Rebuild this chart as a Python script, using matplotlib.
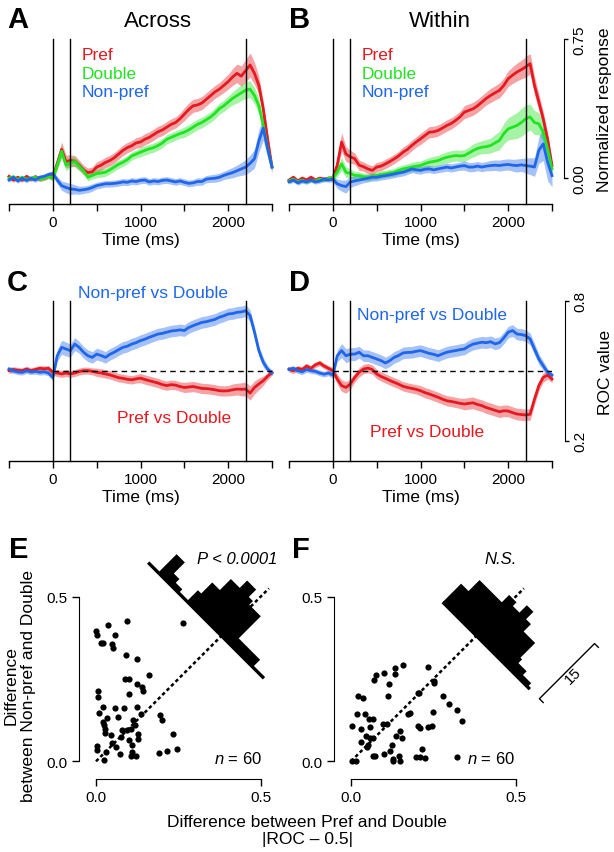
import numpy as np
import matplotlib
matplotlib.use("Agg")
import matplotlib.pyplot as plt
from matplotlib.transforms import Affine2D

plt.rcParams["font.family"] = ["Liberation Sans", "DejaVu Sans"]
plt.rcParams["mathtext.fontset"] = "custom"
plt.rcParams["mathtext.it"] = "Liberation Sans:italic"
plt.rcParams["mathtext.rm"] = "Liberation Sans"

W, H = 614, 853

RED = "#E5191F"
GREEN = "#22E322"
BLUE = "#1F66EA"

# time axis (ms), 50-ms bins
T = np.arange(-500, 2501, 50)
XTICKS = [-500, 0, 500, 1000, 1500, 2000, 2500]
XTICK_LABELS = ["", "0", "", "1000", "", "2000", ""]
EVENTS = [0, 200, 2200]

# ---- A: Across, normalized response ----
A_PREF = [0.01, -0.01, 0.005, -0.01, 0.01, -0.005, 0.008, -0.005, 0.0, 0.01,
          0.005, 0.08, 0.155, 0.09, 0.095, 0.092, 0.07, 0.045, 0.03, 0.035,
          0.06, 0.07, 0.085, 0.095, 0.11, 0.13, 0.15, 0.165, 0.175, 0.19,
          0.195, 0.21, 0.22, 0.235, 0.25, 0.26, 0.275, 0.29, 0.30, 0.32,
          0.345, 0.37, 0.39, 0.395, 0.405, 0.425, 0.445, 0.465, 0.48, 0.50,
          0.52, 0.545, 0.565, 0.55, 0.58, 0.61, 0.565, 0.50, 0.375, 0.21,
          0.06]
A_DOUBLE = [0.0, 0.008, -0.008, 0.005, -0.005, 0.0, 0.005, -0.005, 0.0, 0.01,
            0.0, 0.07, 0.145, 0.07, 0.085, 0.09, 0.065, 0.04, 0.005, 0.015,
            0.025, 0.028, 0.032, 0.045, 0.06, 0.075, 0.086, 0.1, 0.12, 0.13,
            0.14, 0.15, 0.158, 0.165, 0.176, 0.19, 0.21, 0.22, 0.23, 0.24,
            0.248, 0.26, 0.275, 0.29, 0.30, 0.315, 0.33, 0.35, 0.375, 0.39,
            0.41, 0.43, 0.445, 0.46, 0.475, 0.48, 0.445, 0.39, 0.285, 0.16,
            0.06]
A_NONPREF = [-0.01, 0.005, -0.015, 0.0, -0.012, 0.0, -0.01, 0.005, 0.01, 0.02,
             0.025, -0.01, -0.04, -0.05, -0.058, -0.06, -0.065, -0.062, -0.058, -0.05,
             -0.04, -0.035, -0.03, -0.03, -0.028, -0.025, -0.02, -0.022, -0.015, -0.018,
             -0.012, -0.01, -0.02, -0.015, -0.018, -0.012, -0.01, -0.015, -0.02, -0.015,
             -0.022, -0.028, -0.025, -0.018, -0.018, -0.005, -0.002, 0.0, 0.005, 0.015,
             0.023, 0.03, 0.04, 0.05, 0.06, 0.08, 0.105, 0.2, 0.27, 0.16,
             0.06]
A_PREF_SEM = [0.012, 0.012, 0.012, 0.012, 0.012, 0.012, 0.012, 0.012, 0.012, 0.012,
              0.015, 0.03, 0.04, 0.035, 0.03, 0.03, 0.028, 0.025, 0.025, 0.025,
              0.028, 0.028, 0.028, 0.028, 0.028, 0.028, 0.028, 0.028, 0.028, 0.028,
              0.03, 0.03, 0.03, 0.03, 0.03, 0.03, 0.03, 0.03, 0.03, 0.03,
              0.035, 0.035, 0.035, 0.035, 0.035, 0.035, 0.035, 0.035, 0.035, 0.038,
              0.04, 0.045, 0.05, 0.055, 0.06, 0.065, 0.06, 0.05, 0.04, 0.03,
              0.02]
A_DOUBLE_SEM = [0.012, 0.012, 0.012, 0.012, 0.012, 0.012, 0.012, 0.012, 0.012, 0.012,
                0.015, 0.025, 0.035, 0.03, 0.028, 0.025, 0.022, 0.02, 0.02, 0.02,
                0.022, 0.022, 0.022, 0.022, 0.022, 0.022, 0.022, 0.022, 0.022, 0.022,
                0.025, 0.025, 0.025, 0.025, 0.025, 0.025, 0.025, 0.025, 0.025, 0.025,
                0.028, 0.028, 0.028, 0.028, 0.028, 0.028, 0.028, 0.03, 0.03, 0.03,
                0.032, 0.035, 0.04, 0.042, 0.045, 0.045, 0.045, 0.04, 0.035, 0.03,
                0.02]
A_NONPREF_SEM = [0.012, 0.012, 0.012, 0.012, 0.012, 0.012, 0.012, 0.012, 0.012, 0.012,
                 0.015, 0.02, 0.025, 0.028, 0.03, 0.025, 0.022, 0.02, 0.02, 0.02,
                 0.018, 0.018, 0.018, 0.018, 0.018, 0.018, 0.018, 0.018, 0.018, 0.018,
                 0.018, 0.018, 0.018, 0.018, 0.018, 0.018, 0.018, 0.018, 0.018, 0.018,
                 0.018, 0.018, 0.018, 0.02, 0.02, 0.02, 0.02, 0.022, 0.022, 0.022,
                 0.025, 0.028, 0.03, 0.035, 0.04, 0.045, 0.05, 0.06, 0.065, 0.05,
                 0.03]

# ---- B: Within, normalized response ----
B_PREF = [-0.01, 0.005, -0.015, 0.0, -0.01, 0.005, -0.01, 0.0, -0.005, 0.0,
          0.0, 0.07, 0.195, 0.13, 0.115, 0.105, 0.07, 0.062, 0.05, 0.042,
          0.06, 0.065, 0.077, 0.09, 0.104, 0.12, 0.14, 0.155, 0.176, 0.195,
          0.212, 0.23, 0.248, 0.25, 0.257, 0.27, 0.284, 0.295, 0.311, 0.33,
          0.356, 0.365, 0.374, 0.39, 0.41, 0.43, 0.446, 0.46, 0.473, 0.50,
          0.536, 0.555, 0.572, 0.585, 0.60, 0.617, 0.50, 0.41, 0.32, 0.21,
          0.068]
B_DOUBLE = [-0.015, -0.005, -0.02, -0.01, -0.02, -0.01, -0.015, -0.005, -0.01, 0.0,
            0.0, 0.032, 0.077, 0.032, 0.025, 0.015, 0.014, 0.008, 0.005, 0.01,
            0.014, 0.02, 0.023, 0.028, 0.032, 0.042, 0.05, 0.055, 0.06, 0.065,
            0.068, 0.078, 0.086, 0.09, 0.095, 0.105, 0.113, 0.118, 0.122, 0.12,
            0.122, 0.135, 0.149, 0.16, 0.167, 0.17, 0.176, 0.19, 0.203, 0.24,
            0.266, 0.275, 0.284, 0.30, 0.32, 0.33, 0.30, 0.293, 0.248, 0.158,
            0.05]
B_NONPREF = [-0.02, -0.01, -0.025, -0.015, -0.02, -0.01, -0.02, -0.015, -0.005, -0.01,
             -0.005, -0.03, -0.04, -0.045, -0.02, -0.015, -0.01, -0.005, 0.0, 0.005,
             0.005, 0.01, 0.014, 0.018, 0.023, 0.028, 0.032, 0.04, 0.05, 0.045,
             0.042, 0.048, 0.05, 0.045, 0.05, 0.055, 0.06, 0.055, 0.06, 0.065,
             0.068, 0.06, 0.06, 0.065, 0.06, 0.065, 0.068, 0.07, 0.068, 0.072,
             0.074, 0.07, 0.068, 0.072, 0.068, 0.065, 0.06, 0.15, 0.185, 0.086,
             0.014]
B_PREF_SEM = [0.012, 0.012, 0.012, 0.012, 0.012, 0.012, 0.012, 0.012, 0.012, 0.012,
              0.015, 0.035, 0.05, 0.04, 0.035, 0.03, 0.028, 0.025, 0.025, 0.025,
              0.025, 0.025, 0.025, 0.025, 0.025, 0.025, 0.028, 0.028, 0.028, 0.028,
              0.03, 0.03, 0.03, 0.03, 0.03, 0.03, 0.03, 0.03, 0.03, 0.03,
              0.035, 0.035, 0.035, 0.035, 0.035, 0.035, 0.038, 0.038, 0.04, 0.04,
              0.042, 0.045, 0.048, 0.05, 0.055, 0.055, 0.05, 0.045, 0.04, 0.03,
              0.02]
B_DOUBLE_SEM = [0.012, 0.012, 0.012, 0.012, 0.012, 0.012, 0.012, 0.012, 0.012, 0.012,
                0.015, 0.025, 0.035, 0.028, 0.025, 0.022, 0.02, 0.02, 0.02, 0.02,
                0.02, 0.02, 0.02, 0.02, 0.022, 0.022, 0.022, 0.022, 0.025, 0.025,
                0.025, 0.025, 0.025, 0.028, 0.028, 0.028, 0.03, 0.03, 0.03, 0.03,
                0.032, 0.032, 0.035, 0.035, 0.035, 0.038, 0.04, 0.045, 0.05, 0.055,
                0.06, 0.065, 0.07, 0.075, 0.075, 0.07, 0.065, 0.06, 0.05, 0.04,
                0.025]
B_NONPREF_SEM = [0.012, 0.012, 0.012, 0.012, 0.012, 0.012, 0.012, 0.012, 0.012, 0.012,
                 0.015, 0.025, 0.03, 0.035, 0.03, 0.025, 0.022, 0.02, 0.02, 0.02,
                 0.02, 0.02, 0.02, 0.02, 0.02, 0.02, 0.02, 0.02, 0.02, 0.02,
                 0.02, 0.02, 0.02, 0.02, 0.02, 0.022, 0.022, 0.022, 0.022, 0.022,
                 0.025, 0.025, 0.025, 0.025, 0.025, 0.025, 0.028, 0.028, 0.03, 0.03,
                 0.03, 0.032, 0.035, 0.035, 0.04, 0.045, 0.05, 0.07, 0.09, 0.1,
                 0.06]

# ---- C: Across, ROC ----
C_NONPREF_DOUBLE = [0.507, 0.5, 0.495, 0.493, 0.5, 0.495, 0.497, 0.493, 0.495, 0.49,
                    0.471, 0.564, 0.60, 0.593, 0.586, 0.614, 0.60, 0.579, 0.564, 0.557,
                    0.571, 0.565, 0.557, 0.57, 0.579, 0.59, 0.60, 0.605, 0.614, 0.62,
                    0.629, 0.635, 0.643, 0.65, 0.657, 0.66, 0.665, 0.67, 0.672, 0.675,
                    0.672, 0.685, 0.693, 0.70, 0.707, 0.71, 0.715, 0.72, 0.729, 0.735,
                    0.743, 0.745, 0.75, 0.752, 0.757, 0.736, 0.665, 0.586, 0.536, 0.507,
                    0.49]
C_PREF_DOUBLE = [0.5, 0.505, 0.502, 0.5, 0.507, 0.5, 0.505, 0.51, 0.508, 0.51,
                 0.493, 0.49, 0.486, 0.49, 0.486, 0.49, 0.496, 0.5, 0.5, 0.497,
                 0.493, 0.49, 0.486, 0.482, 0.476, 0.47, 0.467, 0.463, 0.461, 0.465,
                 0.468, 0.462, 0.457, 0.452, 0.447, 0.44, 0.436, 0.44, 0.438, 0.432,
                 0.428, 0.43, 0.432, 0.428, 0.424, 0.423, 0.421, 0.418, 0.414, 0.413,
                 0.414, 0.418, 0.421, 0.42, 0.421, 0.404, 0.428, 0.443, 0.457, 0.476,
                 0.493]
C_NONPREF_SEM = [0.012, 0.012, 0.012, 0.012, 0.012, 0.012, 0.012, 0.012, 0.012, 0.012,
                 0.015, 0.025, 0.03, 0.03, 0.028, 0.028, 0.025, 0.025, 0.025, 0.025,
                 0.025, 0.025, 0.025, 0.025, 0.025, 0.025, 0.025, 0.025, 0.025, 0.025,
                 0.025, 0.025, 0.025, 0.025, 0.025, 0.025, 0.025, 0.025, 0.025, 0.025,
                 0.025, 0.025, 0.025, 0.025, 0.025, 0.025, 0.025, 0.025, 0.025, 0.025,
                 0.025, 0.025, 0.025, 0.025, 0.025, 0.025, 0.025, 0.022, 0.02, 0.015,
                 0.012]
C_PREF_SEM = [0.012, 0.012, 0.012, 0.012, 0.012, 0.012, 0.012, 0.012, 0.012, 0.012,
              0.012, 0.015, 0.015, 0.015, 0.015, 0.015, 0.015, 0.015, 0.015, 0.015,
              0.018, 0.018, 0.018, 0.018, 0.018, 0.018, 0.018, 0.018, 0.018, 0.018,
              0.02, 0.02, 0.02, 0.02, 0.02, 0.02, 0.02, 0.02, 0.02, 0.02,
              0.022, 0.022, 0.022, 0.022, 0.022, 0.022, 0.022, 0.022, 0.022, 0.022,
              0.022, 0.025, 0.025, 0.028, 0.03, 0.03, 0.028, 0.025, 0.02, 0.015,
              0.012]

# ---- D: Within, ROC ----
D_NONPREF_DOUBLE = [0.505, 0.51, 0.5, 0.495, 0.505, 0.5, 0.497, 0.49, 0.485, 0.49,
                    0.481, 0.564, 0.586, 0.564, 0.571, 0.571, 0.579, 0.564, 0.564, 0.557,
                    0.55, 0.543, 0.533, 0.543, 0.557, 0.565, 0.576, 0.578, 0.579, 0.583,
                    0.586, 0.58, 0.574, 0.57, 0.564, 0.572, 0.579, 0.583, 0.586, 0.59,
                    0.593, 0.605, 0.614, 0.618, 0.622, 0.62, 0.624, 0.615, 0.62, 0.64,
                    0.665, 0.672, 0.657, 0.655, 0.65, 0.636, 0.593, 0.55, 0.521, 0.493,
                    0.481]
D_PREF_DOUBLE = [0.507, 0.5, 0.51, 0.505, 0.52, 0.51, 0.525, 0.533, 0.52, 0.51,
                 0.5, 0.464, 0.436, 0.428, 0.443, 0.471, 0.493, 0.507, 0.511, 0.505,
                 0.486, 0.475, 0.467, 0.458, 0.45, 0.442, 0.433, 0.428, 0.424, 0.42,
                 0.414, 0.406, 0.40, 0.393, 0.386, 0.378, 0.371, 0.368, 0.364, 0.36,
                 0.357, 0.36, 0.362, 0.355, 0.35, 0.342, 0.336, 0.33, 0.324, 0.328,
                 0.327, 0.32, 0.314, 0.312, 0.31, 0.313, 0.378, 0.436, 0.471, 0.481,
                 0.464]
D_NONPREF_SEM = C_NONPREF_SEM
D_PREF_SEM = [0.012, 0.012, 0.012, 0.012, 0.012, 0.012, 0.012, 0.012, 0.012, 0.012,
              0.015, 0.022, 0.025, 0.025, 0.022, 0.02, 0.02, 0.02, 0.02, 0.02,
              0.02, 0.02, 0.02, 0.02, 0.02, 0.02, 0.02, 0.02, 0.02, 0.02,
              0.022, 0.022, 0.022, 0.022, 0.022, 0.022, 0.022, 0.022, 0.022, 0.022,
              0.025, 0.025, 0.025, 0.025, 0.025, 0.025, 0.025, 0.025, 0.025, 0.025,
              0.025, 0.025, 0.025, 0.025, 0.025, 0.025, 0.025, 0.022, 0.02, 0.018,
              0.015]

# ---- E / F: scatter of |ROC - 0.5| differences ----
E_X = [0.093, 0.036, 0.0, 0.002, 0.058, 0.015, 0.022, 0.049, 0.051, 0.263,
       0.09, 0.124, 0.161, 0.088, 0.1, 0.124, 0.14, 0.143, 0.005, 0.007,
       0.101, 0.021, 0.01, 0.058, 0.085, 0.124, 0.136, 0.194, 0.2, 0.032,
       0.068, 0.113, 0.118, 0.024, 0.026, 0.028, 0.078, 0.093, 0.105, 0.127,
       0.127, 0.1, 0.075, 0.05, 0.06, 0.002, 0.004, 0.03, 0.073, 0.108,
       0.12, 0.107, 0.19, 0.217, 0.247, 0.235, 0.024, 0.02, 0.045, 0.11]
E_Y = [0.427, 0.414, 0.396, 0.384, 0.385, 0.36, 0.358, 0.357, 0.345, 0.42,
       0.323, 0.31, 0.262, 0.25, 0.249, 0.234, 0.225, 0.215, 0.213, 0.195,
       0.204, 0.164, 0.148, 0.162, 0.163, 0.164, 0.144, 0.14, 0.125, 0.131,
       0.135, 0.126, 0.11, 0.11, 0.098, 0.086, 0.095, 0.095, 0.098, 0.083,
       0.068, 0.065, 0.074, 0.056, 0.042, 0.047, 0.035, 0.027, 0.022, 0.05,
       0.017, 0.015, 0.026, 0.032, 0.038, 0.083, 0.005, 0.12, 0.08, 0.028]
F_X = [0.159, 0.134, 0.134, 0.101, 0.075, 0.071, 0.235, 0.115, 0.252, 0.252,
       0.203, 0.208, 0.111, 0.022, 0.036, 0.278, 0.298, 0.321, 0.336, 0.248,
       0.174, 0.179, 0.019, 0.043, 0.056, 0.068, 0.002, 0.029, 0.058, 0.096,
       0.108, 0.149, 0.203, 0.21, 0.235, 0.245, 0.045, 0.058, 0.066, 0.137,
       0.154, 0.053, 0.048, 0.124, 0.068, 0.073, 0.101, 0.118, 0.128, 0.128,
       0.147, 0.149, 0.197, 0.21, 0.225, 0.215, 0.015, 0.002, 0.321, 0.03]
F_Y = [0.293, 0.282, 0.265, 0.267, 0.262, 0.248, 0.285, 0.235, 0.245, 0.238,
       0.206, 0.206, 0.197, 0.199, 0.192, 0.199, 0.174, 0.157, 0.121, 0.151,
       0.144, 0.146, 0.144, 0.144, 0.128, 0.128, 0.106, 0.098, 0.103, 0.113,
       0.113, 0.093, 0.106, 0.1, 0.103, 0.108, 0.078, 0.071, 0.071, 0.078,
       0.071, 0.05, 0.043, 0.05, 0.015, 0.015, 0.022, 0.032, 0.007, 0.0,
       0.017, 0.002, 0.012, 0.012, 0.01, 0.037, 0.002, 0.002, 0.012, 0.06]

# diagonal histograms of (x - y), counts per bin
E_EDGES = [-0.445, -0.384, -0.334, -0.30, -0.26, -0.21, -0.19, -0.144, -0.09,
           -0.035, -0.01, 0.06, 0.09, 0.19, 0.258]
E_COUNTS = [0, 5, 2, 1, 0, 3, 6, 9, 11, 9, 8, 2, 2, 0]
F_EDGES = [-0.205, -0.16, -0.025, 0.02, 0.06, 0.1, 0.13, 0.2, 0.21, 0.26, 0.31, 0.324]
F_COUNTS = [5, 8, 10, 9, 11, 9, 7, 3, 2, 1, 0]
HIST_BASE = 0.762      # x + y of the histogram baseline
HIST_UNIT = 0.01117    # data units (per axis) per count
SCALE_COUNT = 15

fig = plt.figure(figsize=(W / 100, H / 100), dpi=100)


def rect(left, top, right, bottom):
    return [left / W, 1 - bottom / H, (right - left) / W, (bottom - top) / H]


def ftext(px, py, s, **kw):
    fig.text(px / W, 1 - py / H, s, **kw)


def time_axes(r, ylim):
    ax = fig.add_axes(r)
    ax.set_xlim(-500, 2500)
    ax.set_ylim(*ylim)
    for s in ["left", "top", "right"]:
        ax.spines[s].set_visible(False)
    ax.spines["bottom"].set_bounds(-500, 2500)
    ax.spines["bottom"].set_linewidth(1.0)
    ax.set_xticks(XTICKS)
    ax.set_xticklabels(XTICK_LABELS)
    ax.tick_params(axis="x", direction="out", length=5, width=1, labelsize=11, pad=3)
    ax.set_yticks([])
    ax.patch.set_visible(False)
    ax.set_xlabel("Time (ms)", fontsize=12.5, labelpad=2)
    for e in EVENTS:
        ax.plot([e, e], [ylim[0], ylim[1]], color="k", lw=1.0, zorder=5, clip_on=False)
    return ax


def trace(ax, mean, sem, color):
    m = np.asarray(mean)
    s = np.asarray(sem)
    ax.fill_between(T, m - s, m + s, color=color, alpha=0.4, lw=0, clip_on=False)
    ax.plot(T, m, color=color, lw=2.0, clip_on=False, solid_joinstyle="round")


def right_axis(ax, lo, hi, labels, offset):
    ax.spines["right"].set_visible(True)
    ax.spines["right"].set_position(("outward", offset))
    ax.spines["right"].set_bounds(lo, hi)
    ax.yaxis.set_ticks_position("right")
    ax.set_yticks([lo, hi])
    ax.set_yticklabels(labels, rotation=90, va="center")
    ax.tick_params(axis="y", direction="out", length=3, width=1, labelsize=11, pad=3)


NR_LIM = (-0.139, 0.75)
ROC_LIM = (0.114, 0.8)

axA = time_axes(rect(9, 40, 272, 205), NR_LIM)
trace(axA, A_PREF, A_PREF_SEM, RED)
trace(axA, A_DOUBLE, A_DOUBLE_SEM, GREEN)
trace(axA, A_NONPREF, A_NONPREF_SEM, BLUE)

axB = time_axes(rect(289, 40, 552, 205), NR_LIM)
trace(axB, B_PREF, B_PREF_SEM, RED)
trace(axB, B_DOUBLE, B_DOUBLE_SEM, GREEN)
trace(axB, B_NONPREF, B_NONPREF_SEM, BLUE)
right_axis(axB, 0.0, 0.75, ["0.00", "0.75"], 8.4)

axC = time_axes(rect(9, 301.7, 272, 461.7), ROC_LIM)
axC.plot([0, 2500], [0.5, 0.5], color="k", lw=1.0, ls=(0, (4, 3)), zorder=4)
trace(axC, C_PREF_DOUBLE, C_PREF_SEM, RED)
trace(axC, C_NONPREF_DOUBLE, C_NONPREF_SEM, BLUE)

axD = time_axes(rect(289, 301.7, 552, 461.7), ROC_LIM)
axD.plot([0, 2500], [0.5, 0.5], color="k", lw=1.0, ls=(0, (4, 3)), zorder=4)
trace(axD, D_PREF_DOUBLE, D_PREF_SEM, RED)
trace(axD, D_NONPREF_DOUBLE, D_NONPREF_SEM, BLUE)
right_axis(axD, 0.2, 0.8, ["0.2", "0.8"], 9.6)


def scatter_axes(r):
    ax = fig.add_axes(r)
    ax.set_xlim(-0.0525, 0.6)
    ax.set_ylim(-0.0537, 0.6)
    for s in ["top", "right"]:
        ax.spines[s].set_visible(False)
    ax.spines["left"].set_bounds(0, 0.5)
    ax.spines["bottom"].set_bounds(0, 0.5)
    ax.set_xticks([0, 0.5])
    ax.set_yticks([0, 0.5])
    ax.set_xticklabels(["0.0", "0.5"])
    ax.set_yticklabels(["0.0", "0.5"])
    ax.tick_params(direction="out", length=5, width=1, labelsize=11, pad=3)
    ax.patch.set_visible(False)
    ax.plot([0, 0.525], [0, 0.525], color="k", lw=1.8, ls=(0, (1.4, 1.1)))
    return ax


def diag_hist(ax, edges, counts):
    us, ns = [edges[0]], [0]
    for i, n in enumerate(counts):
        us += [edges[i], edges[i + 1]]
        ns += [n, n]
    us.append(edges[-1])
    ns.append(0)
    a, c = HIST_UNIT, HIST_BASE
    tr = Affine2D(np.array([[0.5, a, c / 2], [-0.5, a, c / 2], [0, 0, 1]])) + ax.transData
    ax.fill(us, ns, color="k", lw=0, transform=tr, clip_on=False, zorder=6)
    ax.plot([edges[0], edges[-1]], [0, 0], color="k", lw=2.4, transform=tr,
            clip_on=False, solid_capstyle="butt", zorder=6)
    return tr


axE = scatter_axes([78.7 / W, 1 - 780 / H, 214.9 / W, 215.3 / H])
axE.scatter(E_X, E_Y, s=20, color="k", lw=0, clip_on=False, zorder=7)
diag_hist(axE, E_EDGES, E_COUNTS)

axF = scatter_axes([333.7 / W, 1 - 780 / H, 214.9 / W, 215.3 / H])
axF.scatter(F_X, F_Y, s=20, color="k", lw=0, clip_on=False, zorder=7)
trF = diag_hist(axF, F_EDGES, F_COUNTS)
# count scale bar
axF.plot([0.405, 0.382, 0.382, 0.405], [0, 0, SCALE_COUNT, SCALE_COUNT],
         color="k", lw=1.0, transform=trF, clip_on=False)
ftext(573, 676, "15", rotation=45, ha="center", va="center", fontsize=11)

# panel letters and titles
for px, py, s in [(7, 28, "A"), (289, 28, "B"), (7, 291, "C"), (289, 291, "D"),
                  (9, 558, "E"), (292, 558, "F")]:
    ftext(px, py, s, fontsize=21, fontweight="bold", va="baseline")
ftext(158, 27, "Across", fontsize=16, ha="center", va="baseline")
ftext(440, 27, "Within", fontsize=16, ha="center", va="baseline")

for px in (82, 362):
    ftext(px, 60, "Pref", color=RED, fontsize=12.5, va="baseline")
    ftext(px, 79, "Double", color=GREEN, fontsize=12.5, va="baseline")
    ftext(px, 97, "Non-pref", color=BLUE, fontsize=12.5, va="baseline")

ftext(153, 298, "Non-pref vs Double", color=BLUE, fontsize=12.5, ha="center", va="baseline")
ftext(174, 423, "Pref vs Double", color=RED, fontsize=12.5, ha="center", va="baseline")
ftext(432, 320, "Non-pref vs Double", color=BLUE, fontsize=12.5, ha="center", va="baseline")
ftext(427, 437, "Pref vs Double", color=RED, fontsize=12.5, ha="center", va="baseline")

ftext(605, 110, "Normalized response", rotation=90, fontsize=12.5, ha="center", va="center")
ftext(605, 372, "ROC value", rotation=90, fontsize=12.5, ha="center", va="center")

ftext(237, 559, "P < 0.0001", fontsize=12, style="italic", ha="center", va="center")
ftext(501, 560, "N.S.", fontsize=12, style="italic", ha="center", va="center")
ftext(262, 759, r"$n$ = 60", fontsize=12, ha="right", va="center")
ftext(515, 759, r"$n$ = 60", fontsize=12, ha="right", va="center")

ftext(20, 686, "Difference\nbetween Non-pref and Double", rotation=90, fontsize=12.5,
      ha="center", va="center", multialignment="center", linespacing=1.15)
ftext(307, 831, "Difference between Pref and Double\n|ROC \u2013 0.5|", fontsize=12.5,
      ha="center", va="center", multialignment="center", linespacing=1.15)

fig.savefig("out.png", dpi=100, facecolor="white")
